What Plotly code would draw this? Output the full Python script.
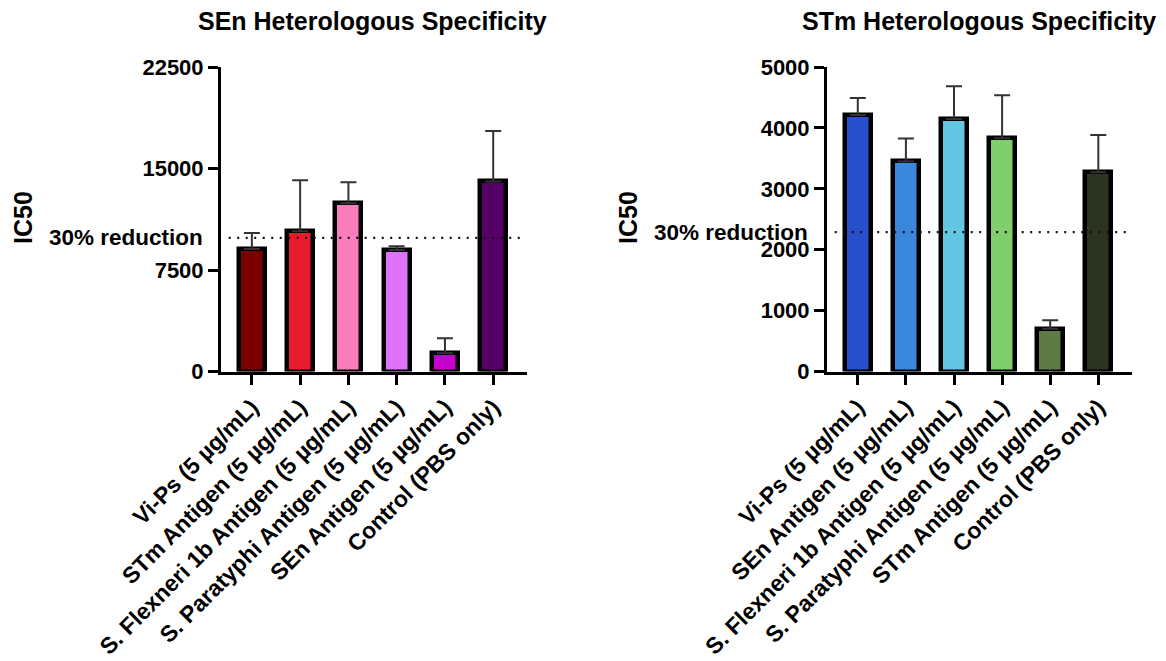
import plotly.graph_objects as go

# ---- data -------------------------------------------------------------
sen_categories = [
    "Vi-Ps (5 µg/mL)",
    "STm Antigen (5 µg/mL)",
    "S. Flexneri 1b Antigen (5 µg/mL)",
    "S. Paratyphi Antigen (5 µg/mL)",
    "SEn Antigen (5 µg/mL)",
    "Control (PBS only)",
]
sen_ic50 = [9050, 10360, 12430, 8980, 1350, 14040]
sen_sd = [1190, 3780, 1560, 270, 1115, 3725]
sen_threshold = 9870
sen_colors = ["#7B0000", "#E81B2D", "#FB7DBE", "#DE72FB", "#C800CC", "#540066"]
sen_yticks = [0, 7500, 15000, 22500]
sen_yticklabels = ["0", "7500", "15000", "22500"]

stm_categories = [
    "Vi-Ps (5 µg/mL)",
    "SEn Antigen (5 µg/mL)",
    "S. Flexneri 1b Antigen (5 µg/mL)",
    "S. Paratyphi Antigen (5 µg/mL)",
    "STm Antigen (5 µg/mL)",
    "Control (PBS only)",
]
stm_ic50 = [4210, 3450, 4145, 3830, 700, 3270]
stm_sd = [280, 375, 540, 705, 140, 615]
stm_threshold = 2290
stm_colors = ["#2850CD", "#3C87DE", "#64C6E2", "#80CE6C", "#5E7B47", "#2B3420"]
stm_yticks = [0, 1000, 2000, 3000, 4000, 5000]
stm_yticklabels = ["0", "1000", "2000", "3000", "4000", "5000"]

FONT = "Arial, Liberation Sans, sans-serif"
W, H = 1166, 661


def px_x(p):
    return p / W


def px_y(p):
    return 1 - p / H


fig = go.Figure()

panels = [
    (sen_categories, sen_ic50, sen_sd, sen_threshold, sen_colors, "x", "y"),
    (stm_categories, stm_ic50, stm_sd, stm_threshold, stm_colors, "x2", "y2"),
]

for cats, vals, sd, thr, cols, xa, ya in panels:
    idx = list(range(len(cats)))
    # 30% reduction reference line, drawn beneath the bars
    fig.add_trace(go.Scatter(
        x=[-0.48, len(cats) - 0.34], y=[thr, thr], mode="lines",
        line=dict(color="#111111", width=2.2, dash="2px,6.5px"),
        xaxis=xa, yaxis=ya, showlegend=False, hoverinfo="skip",
    ))
    fig.add_trace(go.Bar(
        x=idx, y=vals, width=0.54,
        marker=dict(color=cols, line=dict(color="#000000", width=4.5)),
        error_y=dict(type="data", symmetric=False, array=sd,
                     arrayminus=[0] * len(sd), color="#333333",
                     thickness=2, width=8),
        xaxis=xa, yaxis=ya, showlegend=False,
    ))

axis_common = dict(
    showline=True, linecolor="#000000", linewidth=3,
    ticks="outside", ticklen=10, tickwidth=3, tickcolor="#000000",
    showgrid=False, zeroline=False, automargin=False,
)
ytick_font = dict(family=FONT, size=22, color="#000000", weight="bold")
xtick_font = dict(family=FONT, size=23, color="#000000", weight="bold")

y_dom = [px_y(371.5), px_y(67)]

fig.update_layout(
    width=W, height=H,
    margin=dict(l=0, r=0, t=0, b=0),
    paper_bgcolor="#FFFFFF", plot_bgcolor="#FFFFFF",
    bargap=0,
    xaxis=dict(axis_common, domain=[px_x(221), px_x(527)], range=[-0.64, 5.7],
               tickvals=list(range(6)), ticktext=sen_categories,
               tickangle=-45, tickfont=xtick_font, anchor="y"),
    yaxis=dict(axis_common, domain=y_dom, range=[0, 22500],
               tickvals=sen_yticks, ticktext=sen_yticklabels,
               tickfont=ytick_font, anchor="x"),
    xaxis2=dict(axis_common, domain=[px_x(827), px_x(1132)], range=[-0.64, 5.7],
                tickvals=list(range(6)), ticktext=stm_categories,
                tickangle=-45, tickfont=xtick_font, anchor="y2"),
    yaxis2=dict(axis_common, domain=y_dom, range=[0, 5000],
                tickvals=stm_yticks, ticktext=stm_yticklabels,
                tickfont=ytick_font, anchor="x2"),
)

title_font = dict(family=FONT, size=25, color="#000000", weight="bold")
label_font = dict(family=FONT, size=22.5, color="#000000", weight="bold")
ytitle_font = dict(family=FONT, size=25, color="#000000", weight="bold")

annotations = [
    dict(text="SEn Heterologous Specificity", x=px_x(372.5), y=px_y(21),
         font=title_font),
    dict(text="STm Heterologous Specificity", x=px_x(978.5), y=px_y(21),
         font=title_font),
    dict(text="IC50", x=px_x(23), y=px_y(218), textangle=-90, font=ytitle_font),
    dict(text="IC50", x=px_x(628), y=px_y(217), textangle=-90, font=ytitle_font),
]
for a in annotations:
    a.update(xref="paper", yref="paper", showarrow=False,
             xanchor="center", yanchor="middle")

# threshold labels placed at the reference line, left of each y axis
fig.add_annotation(text="30% reduction", xref="paper", yref="y", x=px_x(205),
                   y=sen_threshold, xanchor="right", yanchor="middle",
                   showarrow=False, font=label_font)
fig.add_annotation(text="30% reduction", xref="paper", yref="y2", x=px_x(810),
                   y=stm_threshold, xanchor="right", yanchor="middle",
                   showarrow=False, font=label_font)
for a in annotations:
    fig.add_annotation(a)

fig.write_html("out.html")
